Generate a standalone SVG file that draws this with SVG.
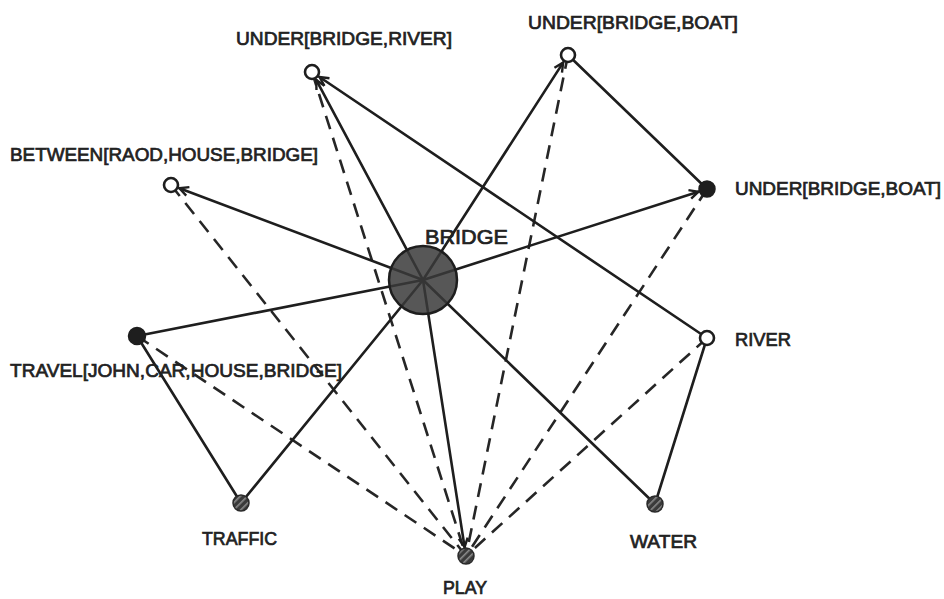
<svg xmlns="http://www.w3.org/2000/svg" width="944" height="599" viewBox="0 0 944 599">
  <style>
    .edge { stroke: #1e1e1e; stroke-width: 2.6; fill: none; stroke-linecap: round; }
    .dash { stroke: #262626; stroke-width: 2.6; fill: none; stroke-dasharray: 14 9; }
    .open { fill: #ffffff; stroke: #1e1e1e; stroke-width: 2.6; }
    .solid { fill: #1e1e1e; stroke: #1e1e1e; stroke-width: 1.5; }
    .hatch { fill: url(#stripes); stroke: #2a2a2a; stroke-width: 1.5; }
    .lbl { font-family: "Liberation Sans", Arial, sans-serif; font-size: 18px; fill: #222; stroke: #222; stroke-width: 0.7; }
  </style>
  <defs>
    <marker id="arrow" markerUnits="userSpaceOnUse" markerWidth="14" markerHeight="14" viewBox="-10 -7 12 14" refX="0" refY="0" orient="auto">
      <path d="M-9,-4.5 L0,0 L-9,4.5" fill="none" stroke="#1e1e1e" stroke-width="2.4" stroke-linejoin="miter"/>
    </marker>
    <pattern id="stripes" patternUnits="userSpaceOnUse" width="5" height="5" patternTransform="rotate(-45)">
      <rect width="5" height="5" fill="#3a3a3a"/>
      <rect width="5" height="1.6" fill="#8a8a8a"/>
    </pattern>
  </defs>

  <rect width="944" height="599" fill="#ffffff"/>

  <!-- connectors -->
  <g id="connectors">
    <!-- dashed links into PLAY -->
    <line class="dash" x1="312" y1="72" x2="466" y2="556"/>
    <line class="dash" x1="568" y1="55" x2="466" y2="556"/>
    <line class="dash" x1="171" y1="185" x2="466" y2="556"/>
    <line class="dash" x1="707" y1="189" x2="466" y2="556"/>
    <line class="dash" x1="707" y1="338" x2="466" y2="556"/>
    <line class="dash" x1="137" y1="336" x2="466" y2="556"/>

    <!-- BRIDGE to relation nodes -->
    <line class="edge" x1="423" y1="280" x2="316.2" y2="79.9" marker-end="url(#arrow)"/>
    <line class="edge" x1="423" y1="280" x2="563.1" y2="62.6" marker-end="url(#arrow)"/>
    <line class="edge" x1="423" y1="280" x2="179.4" y2="188.2" marker-end="url(#arrow)"/>
    <line class="edge" x1="423" y1="280" x2="698.4" y2="191.7" marker-end="url(#arrow)"/>
    <line class="edge" x1="423" y1="280" x2="137" y2="336"/>
    <line class="edge" x1="423" y1="280" x2="464.6" y2="547.1" marker-end="url(#arrow)"/>
    <line class="edge" x1="423" y1="280" x2="241" y2="503"/>
    <line class="edge" x1="423" y1="280" x2="655" y2="504"/>

    <!-- other solid links -->
    <line class="edge" x1="707" y1="338" x2="319.5" y2="77" marker-end="url(#arrow)"/>
    <line class="edge" x1="568" y1="55" x2="707" y2="189"/>
    <line class="edge" x1="707" y1="338" x2="655" y2="504"/>
    <line class="edge" x1="137" y1="336" x2="241" y2="503"/>
  </g>

  <!-- nodes -->
  <g id="node-bridge">
    <circle cx="423" cy="280" r="34" fill="#3a3a3a" fill-opacity="0.85" stroke="#1e1e1e" stroke-width="2.5"/>
    <text class="lbl" x="425" y="244" style="font-size:20px" textLength="83" lengthAdjust="spacingAndGlyphs">BRIDGE</text>
  </g>
  <g id="node-under-bridge-river">
    <circle class="open" cx="312" cy="72" r="7"/>
    <text class="lbl" x="236" y="45" textLength="216" lengthAdjust="spacingAndGlyphs">UNDER[BRIDGE,RIVER]</text>
  </g>
  <g id="node-under-bridge-boat-top">
    <circle class="open" cx="568" cy="55" r="7"/>
    <text class="lbl" x="528" y="29" textLength="210" lengthAdjust="spacingAndGlyphs">UNDER[BRIDGE,BOAT]</text>
  </g>
  <g id="node-between">
    <circle class="open" cx="171" cy="185" r="7"/>
    <text class="lbl" x="10" y="161" textLength="308" lengthAdjust="spacingAndGlyphs">BETWEEN[RAOD,HOUSE,BRIDGE]</text>
  </g>
  <g id="node-under-bridge-boat-right">
    <circle class="solid" cx="707" cy="189" r="8"/>
    <text class="lbl" x="735" y="195" textLength="206" lengthAdjust="spacingAndGlyphs">UNDER[BRIDGE,BOAT]</text>
  </g>
  <g id="node-travel">
    <circle class="solid" cx="137" cy="336" r="8.5"/>
    <text class="lbl" x="10" y="377" textLength="332" lengthAdjust="spacingAndGlyphs">TRAVEL[JOHN,CAR,HOUSE,BRIDGE]</text>
  </g>
  <g id="node-river">
    <circle class="open" cx="707" cy="338" r="7"/>
    <text class="lbl" x="735" y="346" textLength="56" lengthAdjust="spacingAndGlyphs">RIVER</text>
  </g>
  <g id="node-traffic">
    <circle class="hatch" cx="241" cy="503" r="8"/>
    <text class="lbl" x="202" y="545" textLength="75" lengthAdjust="spacingAndGlyphs">TRAFFIC</text>
  </g>
  <g id="node-water">
    <circle class="hatch" cx="655" cy="504" r="8"/>
    <text class="lbl" x="630" y="548" textLength="67" lengthAdjust="spacingAndGlyphs">WATER</text>
  </g>
  <g id="node-play">
    <circle class="hatch" cx="466" cy="556" r="8"/>
    <text class="lbl" x="443" y="594" textLength="44" lengthAdjust="spacingAndGlyphs">PLAY</text>
  </g>
</svg>
